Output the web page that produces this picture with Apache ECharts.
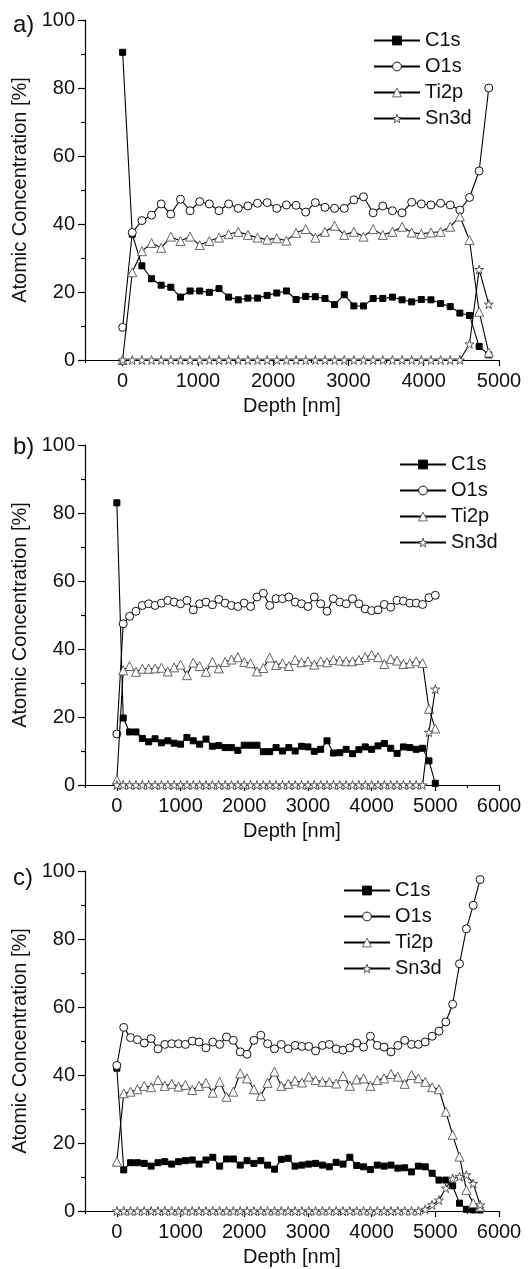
<!DOCTYPE html>
<html>
<head>
<meta charset="utf-8">
<script src="https://cdn.jsdelivr.net/npm/echarts@6/dist/echarts.min.js"></script>
<style>
  html, body { margin: 0; padding: 0; background: #fff; }
  #chart { width: 531px; height: 1269px; }
</style>
</head>
<body>
<div id="chart"></div>
<script>
// ---------- DATA ----------
const seriesNames = ['C1s', 'O1s', 'Ti2p', 'Sn3d'];
const panelLabels = ['a)', 'b)', 'c)'];
const xTicksA = [0, 1000, 2000, 3000, 4000, 5000];
const xTicksBC = [0, 1000, 2000, 3000, 4000, 5000, 6000];
const xMinorA = [-500, 500, 1500, 2500, 3500, 4500];
const xMinorBC = [-500, 500, 1500, 2500, 3500, 4500, 5500];
const xAxisName = 'Depth [nm]';
const yAxisName = 'Atomic Concentration [%]';

// Panel a
const depthA = [0, 128, 256, 384, 512, 640, 768, 896, 1024, 1152, 1280, 1408, 1536, 1664, 1792, 1920, 2048, 2176, 2304, 2432,
  2560, 2688, 2816, 2944, 3072, 3200, 3328, 3456, 3584, 3712, 3840, 3968, 4096, 4224, 4352, 4480, 4608, 4736, 4864];
const c1sA = [90.5, 37, 27.7, 23.9, 22, 21.4, 18.5, 20.3, 20.3, 19.9, 21, 18.5, 17.7, 18.2, 18.2, 19, 19.7, 20.3, 17.8, 18.7,
  18.6, 18.1, 16.3, 19.2, 15.9, 15.9, 18.1, 18.1, 18.5, 17.7, 17.1, 17.8, 17.7, 16.6, 15.7, 13.8, 13.1, 4, 1.5];
const o1sA = [9.6, 37.5, 41, 42.6, 45.9, 42.9, 47.3, 43.9, 46.6, 45.9, 43.9, 45.9, 44.6, 45.3, 46.1, 46.3, 44.6, 45.6, 45.5, 43.5,
  46.3, 44.9, 44.6, 44.6, 47.1, 48, 43.3, 45.3, 43.9, 43.3, 46.4, 45.9, 45.6, 46.1, 45.6, 44.1, 47.8, 55.6, 80];
const ti2pA = [0, 25.8, 32, 34.4, 33, 36.3, 35, 36.3, 33.8, 35, 36, 37, 37.7, 36.8, 36, 35.4, 35.8, 35.1, 37.4, 38.5,
  36, 37.7, 39.5, 36.8, 37.7, 36.3, 38.5, 36.8, 37.7, 39.2, 37.5, 37.1, 37.5, 37.7, 39.2, 42.2, 35.3, 14.2, 2.2];
const sn3dA = [0, 0, 0, 0, 0, 0, 0, 0, 0, 0,
  0, 0, 0, 0, 0, 0, 0, 0, 0, 0,
  0, 0, 0, 0, 0, 0, 0, 0, 0, 0,
  0, 0, 0, 0, 0, 0, 4.7, 26.6, 16.4];

// Panel b
const depthB = [0, 100, 200, 300, 400, 500, 600, 700, 800, 900, 1000, 1100, 1200, 1300, 1400, 1500, 1600, 1700, 1800, 1900,
  2000, 2100, 2200, 2300, 2400, 2500, 2600, 2700, 2800, 2900, 3000, 3100, 3200, 3300, 3400, 3500, 3600, 3700, 3800, 3900,
  4000, 4100, 4200, 4300, 4400, 4500, 4600, 4700, 4800, 4900, 5000];
const c1sB = [83, 19.7, 15.6, 15.6, 13.7, 12.7, 13.6, 12.4, 13, 12.3, 12, 14, 13, 12, 13.5, 11.4, 11.6, 11, 11, 10.2,
  11.7, 11.7, 11.7, 9.8, 9.8, 11, 10, 11, 10, 11.4, 11.2, 9.9, 10.5, 13, 9.4, 9.5, 10.5, 9.2, 10.4, 11.2,
  10.5, 11.5, 12.2, 10.8, 9.3, 11.2, 11, 10.5, 10.8, 7.1, 0.5];
const o1sB = [15, 47.4, 49.6, 51.1, 52.8, 53.3, 52.8, 53.5, 54.3, 53.8, 53.3, 54.3, 51.5, 53.3, 53.8, 53, 54.6, 53.5, 52.8, 52.5,
  53.5, 52.5, 55.3, 56.4, 52.8, 54.8, 54.8, 55.3, 53.8, 53.3, 52.5, 55.3, 53.3, 51.1, 54.8, 53.8, 53.3, 54.8, 53.3, 51.8,
  51.3, 51.5, 53.1, 52.3, 54.3, 54.1, 53.5, 53.5, 53.1, 55.1, 55.8];
const ti2pB = [1.5, 33.7, 35, 33.3, 34.2, 34.2, 34.3, 34.5, 33.4, 34.6, 35.4, 32.3, 36, 35, 33.3, 36.2, 34.3, 36.2, 36.9, 37.6,
  36.2, 35.8, 33.4, 34.4, 37.5, 35.3, 35.8, 35, 36.8, 36.1, 36.4, 35.4, 36.4, 36.1, 36.8, 36.6, 36.4, 36.4, 36.8, 37.6,
  38.3, 37.6, 35.6, 37.1, 36.6, 35.6, 35.8, 36.4, 35.9, 22.4, 16.6];
const sn3dB = [0, 0, 0, 0, 0, 0, 0, 0, 0, 0,
  0, 0, 0, 0, 0, 0, 0, 0, 0, 0,
  0, 0, 0, 0, 0, 0, 0, 0, 0, 0,
  0, 0, 0, 0, 0, 0, 0, 0, 0, 0,
  0, 0, 0, 0, 0, 0, 0, 0, 0, 15.5, 28.2];

// Panel c
const depthC = [0, 108, 215, 323, 430, 538, 646, 753, 861, 968, 1076, 1184, 1291, 1399, 1506, 1614, 1722, 1829, 1937, 2044,
  2152, 2260, 2367, 2475, 2582, 2690, 2798, 2905, 3013, 3120, 3228, 3336, 3443, 3551, 3658, 3766, 3874, 3981, 4089, 4196,
  4304, 4412, 4519, 4627, 4734, 4842, 4950, 5057, 5165, 5272, 5380, 5488, 5595, 5703];
const c1sC = [42, 12.1, 14.2, 14.2, 14, 13.2, 14.2, 14.5, 13.8, 14.5, 14.8, 15, 13.8, 15, 15.8, 13.2, 15.3, 15.3, 13.5, 14.8,
  14, 14.8, 13.5, 12.3, 15.2, 15.5, 13.2, 13.5, 13.8, 14, 13.5, 13, 14.3, 13.8, 15.8, 13.4, 13, 12.2, 13.5, 13.2,
  13.5, 12.6, 12.7, 11.5, 13.2, 13, 11.1, 9.1, 9.1, 7.4, 2.3, 0.5, 0.3, 0.3];
const o1sC = [42.8, 54, 51, 50.4, 49.4, 50.7, 47.7, 49, 49.2, 49.2, 49, 50, 49.7, 48, 49.7, 49, 51.2, 50.2, 46.8, 46.1,
  50.2, 51.7, 49.2, 47.7, 49, 47.7, 48.7, 48.4, 48.4, 47.1, 48.7, 49, 47.7, 47.3, 48, 49.4, 48.2, 51.4, 48.7, 48.2,
  46.8, 48.7, 50.2, 49, 49, 49.7, 51.4, 52.9, 55.6, 60.8, 72.7, 83, 89.9, 97.5];
const ti2pC = [14.5, 34.6, 35.1, 35.8, 36.8, 36.4, 38.5, 36.8, 37.4, 36.6, 37.1, 35.6, 36.8, 37.7, 34.8, 38, 33.6, 35.1, 40.5, 39,
  35.8, 33.8, 37.7, 41, 36.8, 37.4, 38.3, 37.8, 39.5, 38.5, 38, 38, 37.5, 39.7, 36.8, 38.7, 39, 36.8, 38.5, 39,
  40.3, 39.5, 37.4, 40, 39, 38, 36.4, 35.8, 29.2, 22.4, 16, 6.2, 2.3, 1.3];
const sn3dC = [0, 0, 0, 0, 0, 0, 0, 0, 0, 0,
  0, 0, 0, 0, 0, 0, 0, 0, 0, 0,
  0, 0, 0, 0, 0, 0, 0, 0, 0, 0,
  0, 0, 0, 0, 0, 0, 0, 0, 0, 0,
  0, 0, 0, 0, 0, 0.5, 1.8, 3.2, 6.7, 9.6, 10.1, 10.6, 8.1, 1.8];

// ---------- CHART ----------
const FONT = '"Liberation Sans", Arial, Helvetica, sans-serif';
const starPath = 'path://M50,2 L61.2,36.4 L97.5,36.4 L68.2,57.6 L79.4,92 L50,70.8 L20.6,92 L31.8,57.6 L2.5,36.4 L38.8,36.4 Z';

const panels = [
  { depth: depthA, vals: [c1sA, o1sA, ti2pA, sn3dA], xMax: 5000, ticks: xTicksA, minor: xMinorA, top: 20, legendLeft: 368, legendTop: 25, labelTop: 13 },
  { depth: depthB, vals: [c1sB, o1sB, ti2pB, sn3dB], xMax: 6000, ticks: xTicksBC, minor: xMinorBC, top: 445, legendLeft: 394, legendTop: 449, labelTop: 435 },
  { depth: depthC, vals: [c1sC, o1sC, ti2pC, sn3dC], xMax: 6000, ticks: xTicksBC, minor: xMinorBC, top: 871, legendLeft: 338, legendTop: 875, labelTop: 866 }
];

const styles = [
  { symbol: 'rect', symbolSize: 6, itemStyle: { color: '#000', borderColor: '#000', borderWidth: 1 } },
  { symbol: 'circle', symbolSize: 8, itemStyle: { color: '#fff', borderColor: '#111', borderWidth: 1 } },
  { symbol: 'triangle', symbolSize: 9, itemStyle: { color: '#fff', borderColor: '#666', borderWidth: 1 } },
  { symbol: starPath, symbolSize: 9, itemStyle: { color: '#fff', borderColor: '#555', borderWidth: 1 } }
];

const grid = [], xAxis = [], yAxis = [], series = [], legend = [], graphic = [];
const axisLineStyle = { color: '#000', width: 1.2 };
const labelStyle = { color: '#111', fontSize: 20, fontFamily: FONT };

panels.forEach((p, gi) => {
  grid.push({ left: 85, width: 414, top: p.top, height: 340, containLabel: false });
  xAxis.push({
    type: 'value', gridIndex: gi, min: -500, max: p.xMax, interval: 500,
    name: xAxisName, nameLocation: 'middle', nameGap: 36,
    nameTextStyle: { color: '#111', fontSize: 20, fontFamily: FONT },
    axisLine: { show: true, onZero: false, lineStyle: axisLineStyle },
    axisTick: { show: true, customValues: p.ticks, length: 6, lineStyle: axisLineStyle },
    axisLabel: { customValues: p.ticks, margin: 11, formatter: v => String(v), ...labelStyle },
    splitLine: { show: false }
  });
  xAxis.push({
    type: 'value', gridIndex: gi, min: -500, max: p.xMax, interval: 500, position: 'bottom',
    axisLine: { show: false, onZero: false },
    axisTick: { show: true, customValues: p.minor, length: 3, lineStyle: axisLineStyle },
    axisLabel: { show: false },
    splitLine: { show: false }
  });
  yAxis.push({
    type: 'value', gridIndex: gi, min: 0, max: 100, interval: 20,
    name: yAxisName, nameLocation: 'middle', nameGap: 53,
    nameTextStyle: { color: '#111', fontSize: 20, fontFamily: FONT },
    axisLine: { show: true, onZero: false, lineStyle: axisLineStyle },
    axisTick: { show: true, length: 7, lineStyle: axisLineStyle },
    minorTick: { show: true, splitNumber: 2, length: 4, lineStyle: axisLineStyle },
    axisLabel: { margin: 10, formatter: v => String(v), ...labelStyle },
    splitLine: { show: false }
  });
  seriesNames.forEach((name, si) => {
    const data = p.depth.map((d, k) => [d, p.vals[si][k]]);
    series.push({
      name, type: 'line', xAxisIndex: gi * 2, yAxisIndex: gi, data,
      symbol: styles[si].symbol, symbolSize: styles[si].symbolSize,
      showAllSymbol: true, animation: false,
      lineStyle: { color: '#000', width: 1.1 },
      itemStyle: styles[si].itemStyle,
      emphasis: { disabled: true },
      z: 2 + si
    });
  });
  legend.push({
    data: seriesNames.map((name, si) => ({
      name,
      itemStyle: { ...styles[si].itemStyle }
    })),
    orient: 'vertical', left: p.legendLeft, top: p.legendTop,
    itemWidth: 46, itemHeight: 11, itemGap: 5, selectedMode: false,
    textStyle: { color: '#111', fontSize: 20, fontFamily: FONT, lineHeight: 21 }
  });
  graphic.push({
    type: 'text', left: 13, top: p.labelTop,
    style: { text: panelLabels[gi], fontSize: 24, fontFamily: FONT, fill: '#111' }
  });
});

const chart = echarts.init(document.getElementById('chart'), null, { renderer: 'canvas' });
chart.setOption({
  backgroundColor: '#fff',
  animation: false,
  grid, xAxis, yAxis, series, legend, graphic
});
</script>
</body>
</html>
